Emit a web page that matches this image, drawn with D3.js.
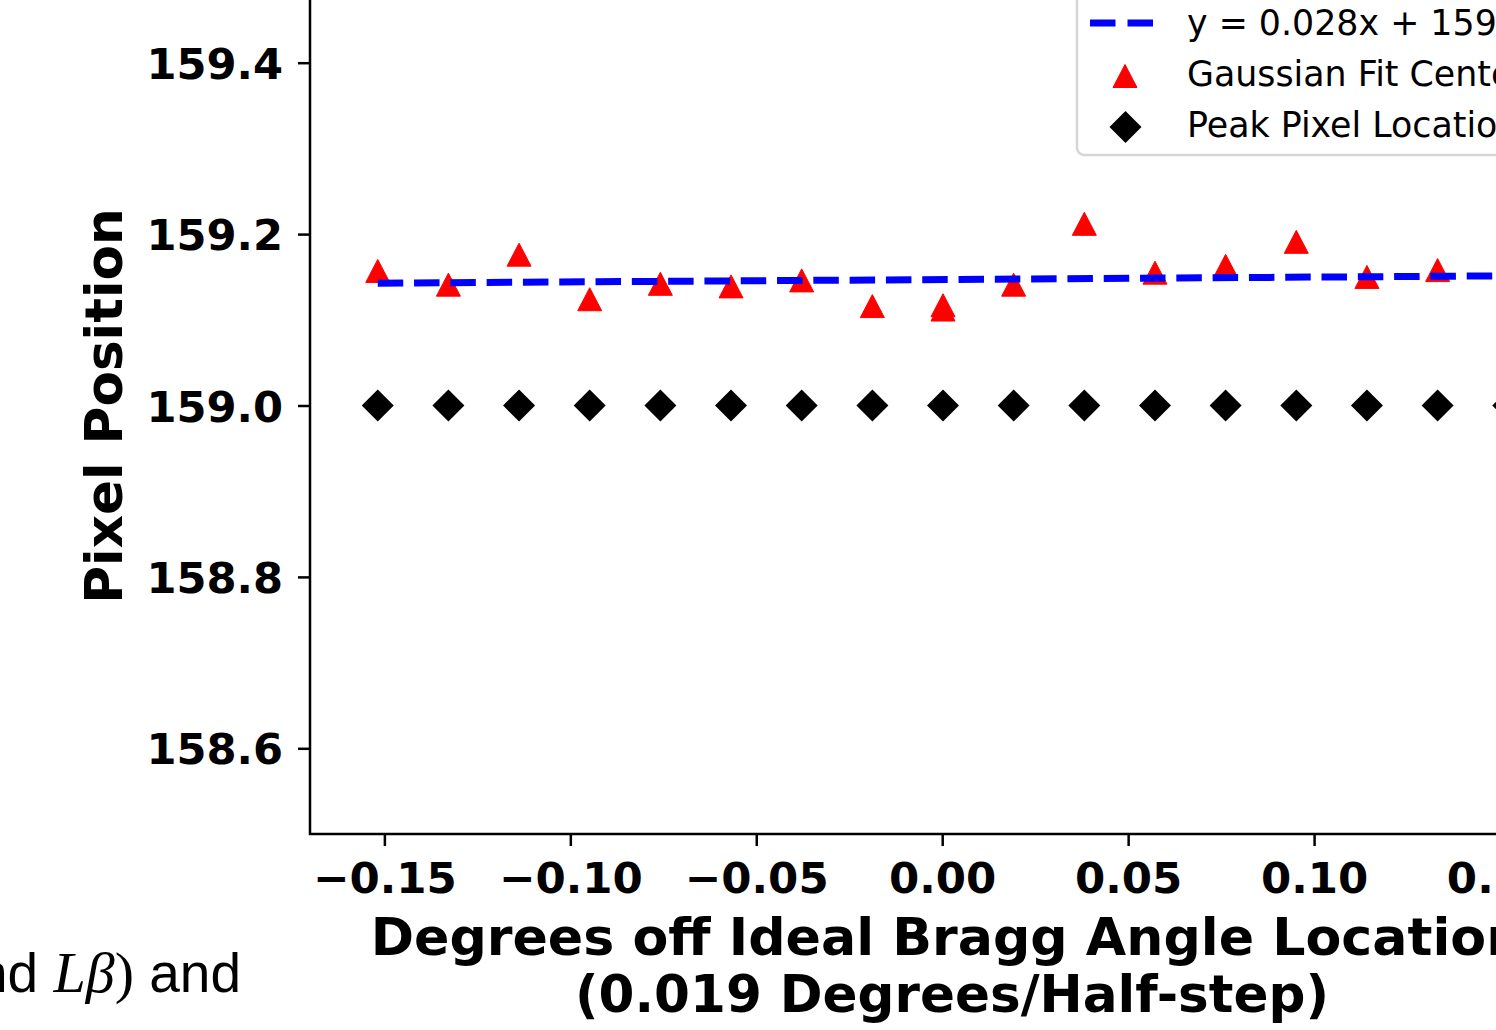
<!DOCTYPE html>
<html>
<head>
<meta charset="utf-8">
<script src="https://cdn.jsdelivr.net/npm/d3@7"></script>
<style>
  html, body { margin: 0; padding: 0; background: #fff; overflow: hidden; }
  svg { display: block; }
</style>
</head>
<body>
<div id="chart"></div>
<script>
// x in degrees (half-steps of 0.019)
const peakX = [-0.152, -0.133, -0.114, -0.095, -0.076, -0.057, -0.038, -0.019, 0,
               0.019, 0.038, 0.057, 0.076, 0.095, 0.114, 0.133, 0.152];
const peakY = [159, 159, 159, 159, 159, 159, 159, 159, 159,
               159, 159, 159, 159, 159, 159, 159, 159];

const gaussX = [-0.152, -0.133, -0.114, -0.095, -0.076, -0.057, -0.038, -0.019, 0, 0,
                0.019, 0.038, 0.057, 0.076, 0.095, 0.114, 0.133];
const gaussY = [159.157, 159.141, 159.176, 159.124, 159.142, 159.139, 159.146, 159.116, 159.117, 159.112,
                159.141, 159.212, 159.155, 159.163, 159.191, 159.150, 159.158];

// fitted line endpoints
const fitX = [-0.152, 0.152];
const fitY = [159.1427, 159.1513];

const xTicks = [-0.15, -0.10, -0.05, 0.00, 0.05, 0.10, 0.15];
const yTicks = [158.6, 158.8, 159.0, 159.2, 159.4];

const legendLabels = ["y = 0.028x + 159.147", "Gaussian Fit Centers", "Peak Pixel Location"];

const W = 1496, H = 1030;
const bold = "'DejaVu Sans', sans-serif";

const svg = d3.select("#chart").append("svg")
    .attr("width", W)
    .attr("height", H);

const x = d3.scaleLinear().domain([-0.17, 0.175]).range([310, 1593]);
const y = d3.scaleLinear().domain([158.5, 159.5]).range([834, -23]);

// markers
svg.append("g").selectAll("path")
    .data(peakX.map((d, i) => [d, peakY[i]]))
    .enter().append("path")
    .attr("transform", d => `translate(${x(d[0]) + 0.8},${y(d[1])})`)
    .attr("d", "M0,-16L16,0L0,16L-16,0Z")
    .attr("fill", "#000");

svg.append("g").selectAll("path")
    .data(gaussX.map((d, i) => [d, gaussY[i]]))
    .enter().append("path")
    .attr("transform", d => `translate(${x(d[0]) + 0.8},${y(d[1])})`)
    .attr("d", "M0,-11.5L12,11.5L-12,11.5Z")
    .attr("fill", "#ff0000")
    .attr("stroke", "#ff0000")
    .attr("stroke-width", 1)
    .attr("stroke-linejoin", "round");

// fit line
svg.append("path")
    .datum(fitX.map((d, i) => [d, fitY[i]]))
    .attr("d", d3.line().x(d => x(d[0]) + 0.8).y(d => y(d[1])))
    .attr("fill", "none")
    .attr("stroke", "#0000ff")
    .attr("stroke-width", 7)
    .attr("stroke-dasharray", "25.5 10.8");

// frame
svg.append("rect")
    .attr("x", x.range()[0]).attr("y", y.range()[1])
    .attr("width", x.range()[1] - x.range()[0])
    .attr("height", y.range()[0] - y.range()[1])
    .attr("fill", "none")
    .attr("stroke", "#000")
    .attr("stroke-width", 2.5);

// axes
const xAxis = svg.append("g")
    .attr("transform", `translate(0,${y.range()[0]})`)
    .call(d3.axisBottom(x).tickValues(xTicks).tickSize(12).tickSizeOuter(0)
        .tickFormat(d3.format(".2f")));
xAxis.select(".domain").remove();
xAxis.selectAll(".tick line").attr("stroke-width", 2.5);
xAxis.selectAll(".tick text")
    .attr("y", 58.5).attr("dy", 0)
    .style("font-family", bold).style("font-weight", "bold")
    .style("font-size", "43.5px").attr("fill", "#000");

const yAxis = svg.append("g")
    .attr("transform", `translate(${x.range()[0]},0)`)
    .call(d3.axisLeft(y).tickValues(yTicks).tickSize(12).tickSizeOuter(0)
        .tickFormat(d3.format(".1f")));
yAxis.select(".domain").remove();
yAxis.selectAll(".tick line").attr("stroke-width", 2.5);
yAxis.selectAll(".tick text")
    .attr("x", -27).attr("dy", "0.36em")
    .style("font-family", bold).style("font-weight", "bold")
    .style("font-size", "43.2px").attr("fill", "#000");

// axis labels
svg.append("text")
    .attr("transform", "translate(122,406) rotate(-90)")
    .attr("text-anchor", "middle")
    .style("font-family", bold).style("font-weight", "bold").style("font-size", "51.6px")
    .text("Pixel Position");

const xl = svg.append("text")
    .attr("text-anchor", "middle")
    .style("font-family", bold).style("font-weight", "bold");
xl.append("tspan").attr("x", 947).attr("y", 955).style("font-size", "52.2px")
    .text("Degrees off Ideal Bragg Angle Location");
xl.append("tspan").attr("x", 952).attr("y", 1012).style("font-size", "51.6px")
    .text("(0.019 Degrees/Half-step)");

// legend
const lg = svg.append("g");
lg.append("rect")
    .attr("x", 1077).attr("y", -30)
    .attr("width", 600).attr("height", 185)
    .attr("rx", 7)
    .attr("fill", "#fff").attr("fill-opacity", 0.8)
    .attr("stroke", "#d6d6d6").attr("stroke-width", 2.5);
lg.append("line")
    .attr("x1", 1090).attr("x2", 1153).attr("y1", 23).attr("y2", 23)
    .attr("stroke", "#0000ff").attr("stroke-width", 7)
    .attr("stroke-dasharray", "25.5 12");
lg.append("path")
    .attr("transform", "translate(1125,76)")
    .attr("d", "M0,-11.5L12,11.5L-12,11.5Z")
    .attr("fill", "#ff0000").attr("stroke", "#ff0000").attr("stroke-linejoin", "round");
lg.append("path")
    .attr("transform", "translate(1125.5,127)")
    .attr("d", "M0,-16L16,0L0,16L-16,0Z")
    .attr("fill", "#000");
lg.selectAll("text.lab")
    .data(legendLabels)
    .enter().append("text")
    .attr("class", "lab")
    .attr("x", 1187)
    .attr("y", (d, i) => [35, 86, 137][i])
    .style("font-family", "'DejaVu Sans', sans-serif")
    .style("font-size", "34.8px")
    .attr("fill", "#000")
    .text(d => d);

// surrounding document text
const doc = svg.append("text")
    .attr("x", 241).attr("y", 992)
    .attr("text-anchor", "end")
    .style("font-family", "'Liberation Sans', Arial, sans-serif")
    .style("font-size", "55px")
    .attr("fill", "#000");
doc.append("tspan").text("and ");
doc.append("tspan").style("font-family", "'Liberation Serif', serif").style("font-style", "italic")
    .style("font-size", "58px").text("Lβ");
doc.append("tspan").style("font-family", "'Liberation Serif', serif").style("font-size", "58px").text(")");
doc.append("tspan").text(" and");
</script>
</body>
</html>
